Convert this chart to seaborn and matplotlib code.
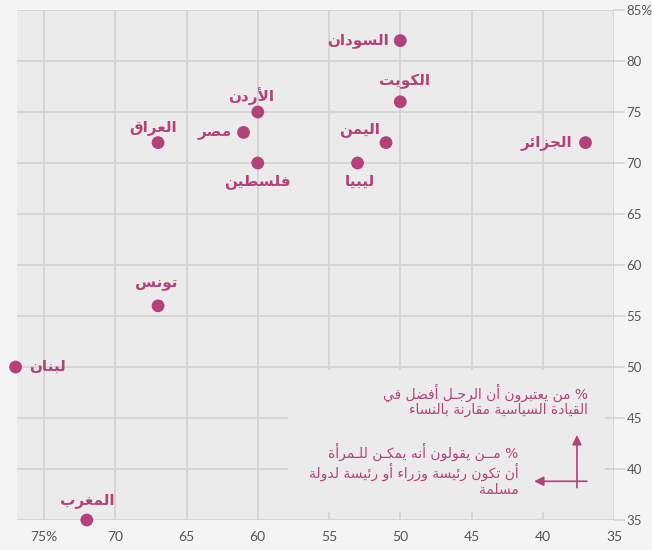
import numpy as np
import pandas as pd
import matplotlib
matplotlib.use("Agg")
import matplotlib.pyplot as plt
import seaborn as sns
from matplotlib.patches import Rectangle

# data
countries = ['السودان', 'الكويت', 'الأردن', 'مصر', 'العراق', 'اليمن', 'الجزائر',
             'فلسطين', 'ليبيا', 'تونس', 'لبنان', 'المغرب']
woman_leader = [50, 50, 60, 61, 67, 51, 37, 60, 53, 67, 77, 72]   # x
men_better = [82, 76, 75, 73, 72, 72, 72, 70, 70, 56, 50, 35]     # y
# label offsets in pixels + alignment
label_dx = [-11, 4, -7, -12, -5, -26, -13, 0, 2, -2, 14, 0]
label_dy = [0, 20, 16, 1, 15, 13, 0, -18, -18, 22, 1, 20]
label_ha = ['right', 'center', 'center', 'right', 'center', 'center', 'right',
            'center', 'center', 'center', 'left', 'center']

x_ticks = [75, 70, 65, 60, 55, 50, 45, 40, 35]
x_labels = ['75%', '70', '65', '60', '55', '50', '45', '40', '35']
y_ticks = [35, 40, 45, 50, 55, 60, 65, 70, 75, 80, 85]
y_labels = ['35', '40', '45', '50', '55', '60', '65', '70', '75', '80', '85%']

note_y = '% من يعتبرون أن الرجـل أفضل في\nالقيادة السياسية مقارنة بالنساء'
note_x = '% مــن يقولون أنه يمكـن للـمرأة\nأن تكون رئيسة وزراء أو رئيسة لدولة\nمسلمة'

# --- tiny arabic shaper (matplotlib has no text shaping) ---
counts = [1, 2, 2, 2, 2, 4, 2, 4, 2, 4, 4, 4, 4, 4, 2, 2, 2, 2, 4, 4, 4, 4, 4, 4, 4, 4]
counts2 = [4, 4, 4, 4, 4, 4, 4, 2, 2, 4]
FORMS = {}
code = 0xFE80
for i, n in enumerate(counts):
    f = [chr(code + k) for k in range(n)] + [None] * (4 - n)
    FORMS[chr(0x0621 + i)] = tuple(f)
    code += n
for i, n in enumerate(counts2):
    f = [chr(code + k) for k in range(n)] + [None] * (4 - n)
    FORMS[chr(0x0641 + i)] = tuple(f)
    code += n
FORMS['\u0640'] = ('\u0640',) * 4
LAMALEF = {'\u0622': 0xFEF5, '\u0623': 0xFEF7, '\u0625': 0xFEF9, '\u0627': 0xFEFB}


def shape_line(text):
    toks = []
    i = 0
    while i < len(text):
        c = text[i]
        if c == '\u0644' and i + 1 < len(text) and text[i + 1] in LAMALEF:
            b = LAMALEF[text[i + 1]]
            toks.append((chr(b), chr(b + 1), None, None))
            i += 2
        elif c in FORMS:
            toks.append(FORMS[c])
            i += 1
        else:
            toks.append(c)
            i += 1
    out = []
    for j, t in enumerate(toks):
        if isinstance(t, str):
            out.append(t)
            continue
        prev = toks[j - 1] if j > 0 else None
        nxt = toks[j + 1] if j + 1 < len(toks) else None
        jp = isinstance(prev, tuple) and prev[2] is not None and t[1] is not None
        jn = isinstance(nxt, tuple) and nxt[1] is not None and t[2] is not None
        idx = 3 if (jp and jn) else 1 if jp else 2 if jn else 0
        out.append(t[idx] or t[0])
    return ''.join(out)[::-1]


def ar(text):
    return '\n'.join(shape_line(s) for s in text.split('\n'))


df = pd.DataFrame({'country': countries, 'x': woman_leader, 'y': men_better})

pink = '#b5417b'
sns.set_style('darkgrid', {'axes.facecolor': '#ebebeb', 'grid.color': '#d3d3d3'})
plt.rcParams['font.family'] = ['Lato', 'DejaVu Sans']

fig = plt.figure(figsize=(6.52, 5.5), dpi=100, facecolor='#f4f4f4')
ax = fig.add_axes([0.0261, 0.0545, 0.9156, 0.9273])
ax.set_facecolor('#ebebeb')

sns.scatterplot(data=df, x='x', y='y', ax=ax, color=pink, s=85,
                edgecolor='none', zorder=5, clip_on=False)

ax.set_xlim(76.9, 35)
ax.set_ylim(35, 85)
ax.set_xticks(x_ticks)
ax.set_xticklabels(x_labels)
ax.set_yticks(y_ticks)
ax.set_yticklabels(y_labels)
ax.yaxis.tick_right()
ax.tick_params(axis='x', length=0, pad=8, labelsize=10, labelcolor='#555555')
ax.tick_params(axis='y', length=8, width=1.2, color='#d3d3d3', pad=1,
               labelsize=9.5, labelcolor='#555555')
ax.set_xlabel('')
ax.set_ylabel('')
ax.grid(True, color='#d3d3d3', linewidth=1.3)
for sp in ax.spines.values():
    sp.set_visible(False)

for i, row in df.iterrows():
    ax.annotate(ar(row['country']), (row['x'], row['y']),
                xytext=(label_dx[i], label_dy[i]), textcoords='offset pixels',
                ha=label_ha[i], va='center', fontsize=11, fontweight='bold',
                color=pink, family='DejaVu Sans', zorder=6,
                annotation_clip=False)

# key box
ax.add_patch(Rectangle((35.6, 35.8), 22.3, 13.9, facecolor='#ebebeb',
                       edgecolor='none', zorder=2))
ax.text(36.8, 48.4, ar(note_y), ha='right', va='top', fontsize=10,
        color=pink, family='DejaVu Sans', linespacing=1.15, zorder=3)
ax.text(41.7, 42.6, ar(note_x), ha='right', va='top', fontsize=10,
        color=pink, family='DejaVu Sans', linespacing=1.15, zorder=3)
ax.annotate('', xy=(37.6, 43.6), xytext=(37.6, 37.9),
            arrowprops=dict(arrowstyle='-|>', color=pink, lw=1.2,
                            mutation_scale=14), zorder=3)
ax.annotate('', xy=(40.8, 38.8), xytext=(36.7, 38.8),
            arrowprops=dict(arrowstyle='-|>', color=pink, lw=1.2,
                            mutation_scale=14), zorder=3)

fig.savefig('out.png', dpi=100, facecolor=fig.get_facecolor())
